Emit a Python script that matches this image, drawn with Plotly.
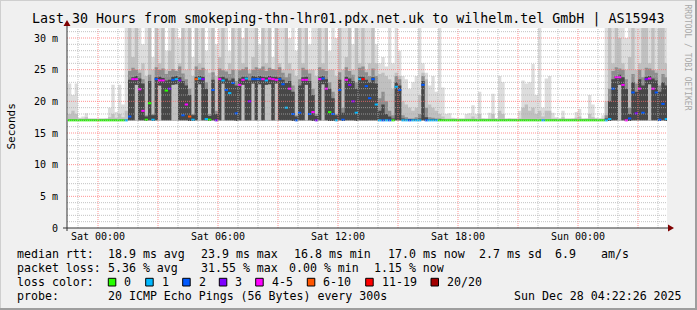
import plotly.graph_objects as go

# ---------------- data (10-minute steps, first step starts Fri 22:30) ----------------
START_HOUR = -1.5          # hours relative to Sat 00:00
STEP_HOURS = 1 / 6
MIN_RTT = 16.9             # bottom of the smoke (ms)

median_ms = [
    17.0, 17.0, 17.0, 17.0, 17.0, 17.0, 17.0, 17.0, 17.0, 17.0,
    17.0, 17.0, 17.0, 17.0, 17.0, 17.0, 17.0, 17.0,
    17.6, 23.5, 23.5, 21.9, 18.5, 17.1, 19.7, 17.1, 23.5, 23.3,
    23.3, 21.7, 22.0, 23.4, 23.5, 23.3, 17.8, 19.5, 17.6, 17.1,
    23.5, 23.6, 23.5, 17.2, 17.1, 21.8, 17.0, 23.5, 23.3, 21.8,
    21.3, 22.9, 18.1, 22.6, 23.4, 23.6, 20.0, 23.5, 23.5, 23.5,
    23.5, 23.3, 23.6, 23.5, 23.4, 23.5, 22.7, 19.0, 22.0, 18.0,
    17.0, 18.2, 23.4, 23.4, 18.0, 18.3, 17.0, 23.5, 23.6, 22.0,
    18.3, 18.0, 17.0, 21.8, 17.1, 23.4, 22.6, 20.0, 18.2, 23.5,
    23.5, 22.4, 20.5, 23.5, 19.5, 17.0, 17.0, 17.0, 17.0, 17.0,
    22.3, 21.8, 17.0, 17.0, 17.0, 17.0, 17.0, 17.0, 22.6, 17.0,
    17.0, 17.0, 17.0, 17.0, 17.0, 17.0, 17.0, 17.0, 17.0, 17.0,
    17.0, 17.0, 17.0, 17.0, 17.0, 17.0, 17.0, 17.0, 17.0, 17.0,
    17.0, 17.0, 17.0, 17.0, 17.0, 17.0, 17.0, 17.0, 17.0, 17.0,
    17.0, 17.0, 17.0, 17.0, 17.0, 17.0, 17.0, 17.0, 17.0, 17.0,
    17.0, 17.0, 17.0, 17.0, 17.0, 17.0, 17.0, 17.0, 17.0, 17.0,
    17.0, 17.0, 17.0,
    17.0, 17.2, 22.0, 23.8, 23.8, 22.6, 17.0, 17.3, 21.4, 18.1,
    22.0, 18.2, 23.5, 23.6, 22.0, 21.4, 17.1, 19.6, 17.2,
]

loss_pings = [
    0, 0, 0, 0, 0, 0, 0, 0, 0, 0,
    0, 0, 0, 0, 0, 0, 0, 1,
    2, 4, 4, 4, 4, 0, 0, 1, 2, 4,
    4, 0, 3, 2, 1, 3, 2, 4, 7, 1,
    6, 1, 3, 1, 0, 2, 3, 4, 1, 2,
    1, 2, 2, 4, 4, 1, 3, 2, 2, 2,
    4, 1, 4, 4, 5, 2, 2, 1, 4, 2,
    2, 2, 4, 4, 2, 4, 3, 4, 2, 4,
    0, 2, 1, 2, 2, 4, 3, 3, 1, 1,
    12, 2, 2, 2, 1, 1, 2, 1, 2, 0,
    1, 2, 1, 1, 2, 1, 1, 1, 2, 2,
    1, 1, 1, 0, 0, 0, 0, 0, 0, 0,
    0, 0, 0, 0, 0, 0, 0, 0, 0, 0,
    0, 0, 0, 0, 0, 0, 0, 0, 0, 0,
    0, 0, 0, 0, 1, 0, 0, 0, 0, 0,
    0, 0, 0, 0, 0, 0, 0, 0, 0, 0,
    0, 0, 0,
    1, 1, 2, 4, 4, 4, 4, 2, 2, 3,
    4, 2, 3, 4, 4, 2, 2, 2, 1,
]

# dark core of the smoke (bottom / top)
core_lo_ms = [
    16.9, 16.9, 16.9, 16.9, 16.9, 16.9, 16.9, 16.9, 16.9, 16.9,
    16.9, 16.9, 16.9, 16.9, 16.9, 16.9, 16.9, 16.9,
    17.0, 17.0, 22.6, 17.0, 17.0, 16.9, 17.0, 16.9, 17.0, 22.5,
    17.0, 17.0, 17.0, 22.6, 22.7, 17.0, 17.0, 17.0, 16.9, 16.9,
    17.0, 22.7, 17.0, 17.0, 16.9, 17.0, 16.9, 17.0, 22.8, 17.0,
    17.0, 17.0, 16.9, 17.0, 22.6, 17.0, 17.0, 22.8, 17.0, 22.7,
    17.0, 22.6, 22.7, 17.0, 22.8, 17.0, 17.0, 17.0, 17.0, 16.9,
    16.9, 17.0, 17.0, 22.6, 17.0, 16.9, 16.9, 17.0, 22.7, 17.0,
    16.9, 16.9, 16.9, 17.0, 16.9, 17.0, 17.0, 17.0, 16.9, 17.0,
    17.0, 17.0, 17.0, 17.0, 17.0, 16.9, 16.9, 16.9, 16.9, 16.9,
    17.0, 17.0, 16.9, 16.9, 16.9, 16.9, 16.9, 16.9, 17.0, 16.9,
    16.9, 16.9, 16.9, 16.9, 16.9, 16.9, 16.9, 16.9, 16.9, 16.9,
    16.9, 16.9, 16.9, 16.9, 16.9, 16.9, 16.9, 16.9, 16.9, 16.9,
    16.9, 16.9, 16.9, 16.9, 16.9, 16.9, 16.9, 16.9, 16.9, 16.9,
    16.9, 16.9, 16.9, 16.9, 16.9, 16.9, 16.9, 16.9, 16.9, 16.9,
    16.9, 16.9, 16.9, 16.9, 16.9, 16.9, 16.9, 16.9, 16.9, 16.9,
    16.9, 16.9, 16.9,
    16.9, 16.9, 17.0, 17.0, 22.6, 17.0, 16.9, 16.9, 17.0, 17.0,
    17.0, 17.0, 17.0, 22.7, 17.0, 17.0, 16.9, 17.0, 16.9,
]

core_hi_ms = [
    17.1, 17.1, 17.1, 17.1, 17.1, 17.1, 17.1, 17.1, 17.1, 17.1,
    17.1, 17.1, 17.1, 17.1, 17.1, 17.1, 17.1, 17.1,
    23.4, 23.8, 24.0, 23.6, 22.8, 17.6, 23.2, 17.8, 23.8, 23.9,
    23.7, 23.3, 23.4, 23.9, 24.0, 23.8, 23.2, 22.5, 21.0, 17.8,
    23.9, 24.0, 23.9, 22.0, 17.7, 23.4, 18.0, 23.8, 23.9, 23.6,
    23.3, 23.6, 22.5, 23.6, 23.9, 23.9, 23.3, 24.0, 23.9, 24.0,
    23.9, 23.8, 24.0, 23.9, 23.9, 23.8, 23.4, 22.9, 23.2, 21.5,
    17.6, 22.5, 23.8, 23.9, 23.2, 21.0, 17.7, 23.9, 24.0, 23.5,
    22.0, 20.5, 17.8, 23.4, 18.2, 23.9, 23.6, 23.2, 22.0, 23.9,
    23.9, 23.4, 23.0, 23.8, 22.8, 18.5, 19.5, 18.0, 17.6, 17.3,
    23.0, 22.5, 17.3, 17.2, 17.2, 17.2, 17.2, 17.3, 23.2, 17.5,
    17.2, 17.2, 17.2, 17.2, 17.1, 17.1, 17.1, 17.1, 17.1, 17.1,
    17.1, 17.1, 17.1, 17.1, 17.1, 17.1, 17.1, 17.1, 17.1, 17.1,
    17.1, 17.1, 17.1, 17.1, 17.1, 17.1, 17.1, 17.1, 17.1, 17.1,
    17.1, 17.1, 17.1, 17.1, 17.1, 17.1, 17.1, 17.1, 17.1, 17.1,
    17.1, 17.1, 17.1, 17.1, 17.1, 17.1, 17.1, 17.1, 17.1, 17.1,
    17.1, 17.1, 17.1,
    17.3, 20.0, 23.5, 24.0, 24.2, 23.8, 22.0, 18.0, 23.0, 21.5,
    23.5, 22.5, 23.9, 24.0, 23.6, 23.3, 21.5, 23.0, 22.5,
]

# darker haze just above the dense core
haze_ms = [
    17.1, 17.1, 17.1, 17.1, 17.1, 17.1, 17.1, 17.1, 17.1, 17.1,
    17.1, 17.1, 17.1, 17.1, 17.1, 17.1, 17.1, 17.1,
    24.8, 25.3, 25.0, 24.5, 23.5, 17.8, 24.2, 18.0, 25.4, 25.0,
    25.2, 24.3, 24.8, 25.1, 24.8, 25.5, 24.4, 23.5, 22.0, 18.0,
    25.5, 25.0, 25.3, 23.0, 18.0, 24.6, 18.5, 25.2, 24.9, 24.7,
    24.3, 25.0, 23.2, 24.9, 25.1, 25.4, 24.4, 25.0, 25.4, 25.2,
    25.5, 24.8, 25.3, 25.1, 25.0, 25.4, 24.5, 23.8, 24.4, 22.5,
    17.8, 23.5, 25.3, 25.0, 24.4, 22.0, 18.0, 25.4, 25.1, 24.8,
    23.0, 21.5, 18.0, 24.6, 19.0, 25.4, 24.8, 24.2, 23.0, 25.3,
    25.5, 24.6, 24.0, 25.2, 24.0, 20.5, 21.5, 20.0, 18.5, 17.8,
    24.0, 23.5, 17.8, 17.5, 17.3, 17.3, 17.5, 18.0, 24.0, 19.0,
    17.5, 17.4, 17.3, 17.3, 17.2, 17.1, 17.1, 17.1, 17.1, 17.1,
    17.1, 17.1, 17.1, 17.1, 17.1, 17.1, 17.1, 17.1, 17.1, 17.1,
    17.1, 17.1, 17.1, 17.1, 17.1, 17.1, 17.1, 17.1, 17.1, 17.1,
    17.1, 17.1, 17.1, 17.1, 17.1, 17.1, 17.1, 17.1, 17.1, 17.1,
    17.1, 17.1, 17.1, 17.1, 17.1, 17.1, 17.1, 17.1, 17.1, 17.1,
    17.1, 17.1, 17.1,
    17.8, 22.0, 24.8, 25.4, 25.2, 25.0, 23.5, 19.0, 24.3, 22.8,
    25.0, 23.8, 25.3, 25.2, 24.9, 24.5, 22.5, 24.3, 23.8,
]

# medium-grey smoke top
mid_ms = [
    18.0, 18.5, 18.0, 17.3, 17.3, 17.5, 17.3, 17.3, 17.3, 17.3,
    17.3, 17.3, 17.5, 18.0, 17.4, 18.0, 17.5, 18.5,
    32.0, 27.0, 32.0, 25.0, 26.0, 24.0, 32.0, 25.0, 32.0, 26.0,
    32.0, 25.0, 28.0, 32.0, 25.0, 26.0, 32.0, 25.0, 32.0, 24.0,
    32.0, 26.0, 32.0, 25.0, 24.5, 32.0, 24.0, 27.0, 32.0, 25.0,
    26.0, 32.0, 25.0, 32.0, 26.0, 32.0, 25.0, 27.0, 32.0, 25.0,
    32.0, 26.0, 32.0, 25.0, 32.0, 26.0, 25.0, 32.0, 26.0, 25.0,
    24.0, 32.0, 26.0, 32.0, 25.0, 25.0, 24.0, 32.0, 26.0, 32.0,
    25.0, 25.0, 24.0, 32.0, 25.0, 27.0, 32.0, 25.0, 32.0, 26.0,
    32.0, 25.0, 26.0, 32.0, 26.0, 24.3, 24.5, 24.0, 23.5, 22.0,
    24.5, 24.0, 20.0, 19.5, 19.0, 18.5, 19.0, 21.0, 24.5, 23.5,
    19.5, 19.0, 18.5, 18.0, 17.6, 17.3, 17.3, 17.3, 17.3, 17.3,
    17.3, 17.3, 17.3, 17.6, 17.3, 18.0, 17.3, 17.3, 17.3, 18.0,
    17.3, 18.5, 18.0, 17.3, 17.3, 17.3, 17.3, 17.3, 19.0, 19.5,
    18.5, 19.0, 18.0, 18.5, 17.6, 18.5, 18.5, 17.3, 17.3, 17.3,
    17.5, 17.3, 17.3, 17.3, 17.4, 17.6, 17.3, 17.3, 18.0, 17.5,
    17.3, 17.3, 17.3,
    20.0, 32.0, 26.0, 32.0, 30.0, 26.0, 25.0, 27.0, 32.0, 25.0,
    26.0, 32.0, 32.0, 26.0, 32.0, 25.0, 32.0, 32.0, 26.0,
]

# light-grey smoke top (largest ping)
max_ms = [
    22.8, 21.0, 22.8, 17.4, 17.6, 18.1, 17.2, 17.2, 17.2, 17.2,
    17.2, 17.3, 19.0, 22.6, 18.3, 22.6, 19.5, 32.0,
    32.0, 32.0, 32.0, 32.0, 29.0, 32.0, 32.0, 27.0, 32.0, 32.0,
    32.0, 28.0, 32.0, 32.0, 32.0, 30.0, 32.0, 32.0, 32.0, 27.0,
    32.0, 32.0, 32.0, 28.0, 32.0, 32.0, 29.0, 32.0, 32.0, 32.0,
    28.0, 32.0, 32.0, 32.0, 30.0, 32.0, 32.0, 32.0, 32.0, 29.0,
    32.0, 32.0, 32.0, 27.0, 32.0, 32.0, 32.0, 32.0, 30.0, 32.0,
    28.0, 32.0, 32.0, 32.0, 29.0, 32.0, 32.0, 32.0, 32.0, 32.0,
    28.0, 32.0, 30.0, 32.0, 32.0, 32.0, 32.0, 29.0, 32.0, 32.0,
    32.0, 32.0, 32.0, 32.0, 29.0, 26.0, 27.0, 25.5, 32.0, 26.0,
    32.0, 28.0, 24.0, 23.5, 22.0, 23.0, 24.0, 32.0, 26.0, 24.5,
    22.5, 24.0, 21.5, 32.0, 22.2, 18.0, 18.1, 17.4, 17.3, 17.2,
    17.2, 18.0, 18.1, 19.4, 18.0, 21.5, 17.3, 17.2, 18.2, 21.2,
    17.3, 24.0, 23.0, 17.2, 17.3, 17.2, 17.2, 18.5, 23.3, 22.8,
    23.0, 25.9, 21.0, 32.0, 19.0, 23.6, 24.0, 18.2, 17.5, 17.3,
    18.5, 17.2, 17.2, 17.3, 18.3, 18.8, 17.2, 17.3, 21.0, 19.5,
    17.4, 17.3, 17.8,
    32.0, 32.0, 32.0, 32.0, 32.0, 32.0, 30.0, 32.0, 32.0, 32.0,
    32.0, 32.0, 32.0, 32.0, 32.0, 32.0, 30.0, 32.0, 32.0,
]

hour_ticks = [0, 6, 12, 18, 24]
hour_labels = ["Sat 00:00", "Sat 06:00", "Sat 12:00", "Sat 18:00", "Sun 00:00"]
ms_ticks = [0, 5, 10, 15, 20, 25, 30]
ms_labels = ["0", "5 m", "10 m", "15 m", "20 m", "25 m", "30 m"]

loss_classes = ["0", "1", "2", "3", "4-5", "6-10", "11-19", "20/20"]
loss_colors = ["#26ff00", "#00b8ff", "#0059ff", "#7e00ff", "#ff00ff", "#ff5500", "#ff0000", "#a10000"]

title_text = "Last 30 Hours from smokeping-thn-lhr01.pdx.net.uk to wilhelm.tel GmbH | AS15943"
rtt_stats = ["18.9 ms avg", "23.9 ms max", "16.8 ms min", "17.0 ms now", "2.7 ms sd", "6.9", "am/s"]
loss_stats = ["5.36 % avg", "31.55 % max", "0.00 % min", "1.15 % now"]
probe_text = "20 ICMP Echo Pings (56 Bytes) every 300s"
stamp_text = "Sun Dec 28 04:22:26 2025"

# ---------------- figure ----------------
X0, X1 = -1.55, 28.45
Y0, Y1 = 0.0, 31.58
ML, MT, PW, PH = 67, 28, 600, 200
MONO = "DejaVu Sans Mono"

n = len(median_ms)
edges = [START_HOUR + i * STEP_HOURS for i in range(n + 1)]


def step(vals):
    return edges, list(vals) + [vals[-1]]


def px_x(px):
    return (px - ML) / PW


def px_y(py):
    return (MT + PH - py) / PH


fig = go.Figure()


def band(lo_vals, hi_vals, color):
    xs, ylo = step(lo_vals)
    _, yhi = step(hi_vals)
    fig.add_trace(go.Scatter(x=xs, y=ylo, mode="lines", line=dict(width=0, shape="hv"),
                             hoverinfo="skip", showlegend=False))
    fig.add_trace(go.Scatter(x=xs, y=yhi, mode="lines", line=dict(width=0, shape="hv"),
                             fill="tonexty", fillcolor=color, hoverinfo="skip", showlegend=False))


base = [MIN_RTT] * n
band(base, max_ms, "#dddddd")
band(base, mid_ms, "#c0c0c0")
band(core_lo_ms, haze_ms, "#8e8e8e")
band(core_lo_ms, core_hi_ms, "#474747")


def loss_class(k):
    if k <= 3:
        return k
    if k <= 5:
        return 4
    if k <= 10:
        return 5
    if k <= 19:
        return 6
    return 7


for c, col in enumerate(loss_colors):
    xs, ys = [], []
    for i in range(n):
        if loss_class(loss_pings[i]) == c:
            xs += [edges[i], edges[i + 1], None]
            ys += [median_ms[i], median_ms[i], None]
    if xs:
        fig.add_trace(go.Scatter(x=xs, y=ys, mode="lines", line=dict(color=col, width=2),
                                 hoverinfo="skip", showlegend=False))

shapes = []
# grid drawn above the data (rrdtool style)
h = -1
while h <= 28:
    major = (h % 3 == 0)
    shapes.append(dict(type="line", xref="x", yref="y", x0=h, x1=h, y0=Y0, y1=Y1, layer="above",
                       line=dict(color="rgba(255,110,110,0.75)" if major else "rgba(175,175,175,0.75)",
                                 width=1, dash="1px,1px")))
    h += 1
for v in range(1, 32):
    major = (v % 5 == 0)
    shapes.append(dict(type="line", xref="x", yref="y", x0=X0, x1=X1, y0=v, y1=v, layer="above",
                       line=dict(color="rgba(255,110,110,0.75)" if major else "rgba(175,175,175,0.75)",
                                 width=1, dash="1px,1px")))

AXIS_COL = "#333333"
ARROW_COL = "#7f0000"
# axes
shapes.append(dict(type="line", xref="paper", yref="paper", x0=px_x(63), x1=px_x(669),
                   y0=px_y(228), y1=px_y(228), line=dict(color=AXIS_COL, width=1), layer="above"))
shapes.append(dict(type="line", xref="paper", yref="paper", x0=px_x(67), x1=px_x(67),
                   y0=px_y(231), y1=px_y(25), line=dict(color=AXIS_COL, width=1), layer="above"))
shapes.append(dict(type="path", xref="paper", yref="paper", layer="above",
                   path="M {} {} L {} {} L {} {} Z".format(px_x(668), px_y(224.5), px_x(674), px_y(228),
                                                            px_x(668), px_y(231.5)),
                   fillcolor=ARROW_COL, line=dict(width=0)))
shapes.append(dict(type="path", xref="paper", yref="paper", layer="above",
                   path="M {} {} L {} {} L {} {} Z".format(px_x(63.5), px_y(26), px_x(67), px_y(20),
                                                            px_x(70.5), px_y(26)),
                   fillcolor=ARROW_COL, line=dict(width=0)))
# frame
shapes.append(dict(type="line", xref="paper", yref="paper", x0=px_x(0), x1=px_x(697),
                   y0=px_y(0.5), y1=px_y(0.5), line=dict(color="#cfcfcf", width=1)))
shapes.append(dict(type="line", xref="paper", yref="paper", x0=px_x(0.5), x1=px_x(0.5),
                   y0=px_y(0), y1=px_y(310), line=dict(color="#cfcfcf", width=1)))
shapes.append(dict(type="line", xref="paper", yref="paper", x0=px_x(0), x1=px_x(697),
                   y0=px_y(309), y1=px_y(309), line=dict(color="#9e9e9e", width=2)))
shapes.append(dict(type="line", xref="paper", yref="paper", x0=px_x(696), x1=px_x(696),
                   y0=px_y(0), y1=px_y(310), line=dict(color="#9e9e9e", width=2)))

annotations = []


def text(s, px, py, size=11.6, anchor="left", color="#000000", angle=0):
    annotations.append(dict(text=s, x=px_x(px), y=px_y(py), xref="paper", yref="paper",
                            xanchor=anchor, yanchor="middle", showarrow=False, textangle=angle,
                            font=dict(family=MONO, size=size, color=color), borderpad=0))


text(title_text, 348, 19, size=13.3, anchor="center")
text("Seconds", 10.5, 127, size=11, anchor="center", angle=-90)
text("RRDTOOL / TOBI OETIKER", 687.5, 57, size=8, anchor="center", color="#a8a8a8", angle=90)

row1_x = [107.3, 200, 293.3, 386.7, 478.3, 554, 600]
row2_x = [107.3, 200, 287.5, 372.7]
text("median rtt:", 16, 254)
for s, px in zip(rtt_stats, row1_x):
    text(s, px, 254)
text("packet loss:", 16, 268)
for s, px in zip(loss_stats, row2_x):
    text(s, px, 268)
text("loss color:", 16, 282)
box_x = [108.3, 145.7, 182.7, 219.3, 255.7, 307.3, 365.7, 431.0]
for lab, col, bx in zip(loss_classes, loss_colors, box_x):
    shapes.append(dict(type="rect", xref="paper", yref="paper", x0=px_x(bx), x1=px_x(bx + 7.5),
                       y0=px_y(286), y1=px_y(278.3), fillcolor=col, line=dict(color="#000000", width=1)))
    text(lab, bx + 15, 282)
text("probe:", 16, 296)
text(probe_text, 107.3, 296)
text(stamp_text, 513, 296)

fig.update_layout(
    width=697, height=310,
    margin=dict(l=ML, r=697 - ML - PW, t=MT, b=310 - MT - PH, pad=0),
    paper_bgcolor="#f0f0f0", plot_bgcolor="#ffffff",
    showlegend=False,
    shapes=shapes, annotations=annotations,
    xaxis=dict(range=[X0, X1], tickvals=hour_ticks, ticktext=hour_labels, showgrid=False,
               zeroline=False, showline=False, ticks="", ticklabelstandoff=1,
               tickfont=dict(family=MONO, size=10, color="#000000"), fixedrange=True),
    yaxis=dict(range=[Y0, Y1], tickvals=ms_ticks, ticktext=ms_labels, showgrid=False,
               zeroline=False, showline=False, ticks="", ticklabelstandoff=8,
               tickfont=dict(family=MONO, size=10, color="#000000"), fixedrange=True),
)

fig.write_html("out.html", config={"displayModeBar": False})
